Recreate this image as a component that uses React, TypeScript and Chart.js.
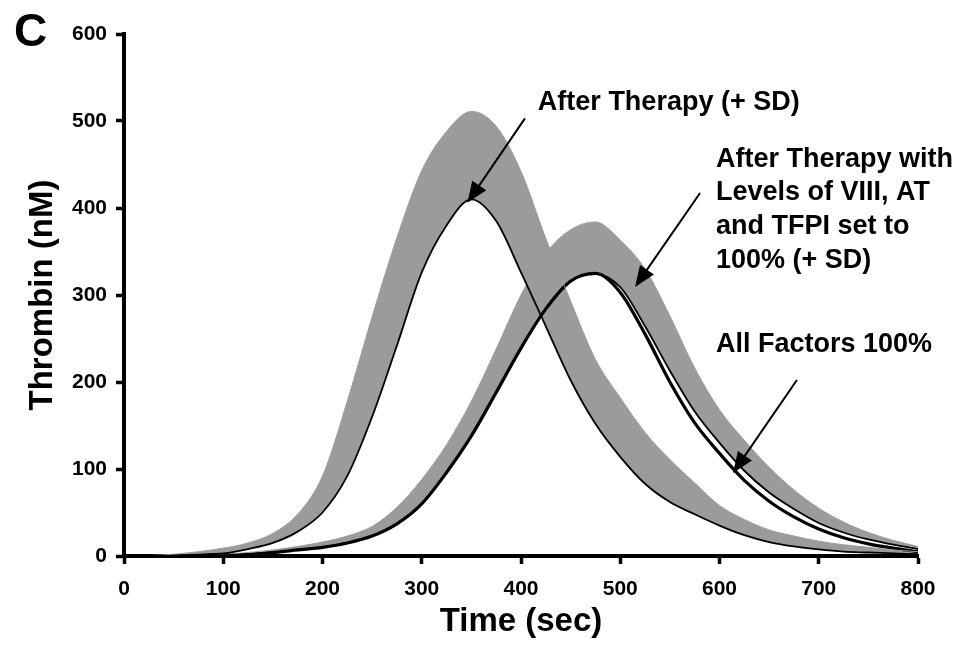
import React, { useEffect, useRef } from 'react';
import { Chart, registerables } from 'chart.js';

Chart.register(...registerables);

// ---- Data ----
const TIME = [0, 25, 50, 75, 100, 125, 150, 175, 200, 225, 250, 275, 300, 325, 350, 375, 400, 425, 450, 475, 500, 525, 550, 575, 600, 625, 650, 675, 700, 725, 750, 775, 800];

// "After Therapy" mean and mean + SD
const AFTER_THERAPY_MEAN = [0, 0, 0.5, 1.5, 3, 8, 15, 28, 50, 92, 160, 242, 326, 380, 410, 385, 326, 264, 202, 152, 114, 83, 62, 48, 35, 24, 16, 11, 7.5, 5, 4, 3, 2];
const AFTER_THERAPY_UPPER = [0, 0.5, 2, 5, 9, 15, 26, 48, 92, 178, 275, 366, 443, 488, 511, 494, 442, 365, 293, 226, 182, 142, 111, 84, 58, 42, 30, 23, 17, 13, 10, 7, 5];

// "After Therapy with Levels of VIII, AT and TFPI set to 100%" mean and mean + SD
const SET100_MEAN = [0, 0, 0, 0.5, 1, 2, 4, 7, 10, 15, 23, 37, 60, 96, 138, 188, 239, 284, 316, 324, 309, 264, 213, 166, 130, 98, 73, 54, 38, 27, 19, 13, 8];
const SET100_UPPER = [0, 0, 0.5, 1, 2, 4, 7, 11, 16, 23, 34, 56, 88, 128, 178, 238, 300, 348, 375, 384, 363, 330, 276, 216, 168, 133, 102, 76, 55, 39, 27, 18, 11];

// "All Factors 100%"
const ALL_FACTORS = [0, 0, 0, 0.5, 1, 2, 4, 7, 10, 15, 23, 37, 60, 96, 138, 188, 239, 284, 316, 325, 303, 255, 200, 153, 118, 87, 63, 45, 31, 21, 14, 9, 5];

const X_MIN = 0;
const X_MAX = 800;
const X_STEP = 100;
const Y_MIN = 0;
const Y_MAX = 600;
const Y_STEP = 100;

const PANEL_LABEL = 'C';
const X_TITLE = 'Time (sec)';
const Y_TITLE = 'Thrombin (nM)';
const LABEL_AFTER = ['After Therapy (+ SD)'];
const LABEL_SET100 = ['After Therapy with', 'Levels of VIII, AT', 'and TFPI set to', '100% (+ SD)'];
const LABEL_ALL = ['All Factors 100%'];

const FONT = '"Liberation Sans", Arial, Helvetica, sans-serif';
const GRAY = '#9b9b9b';

const toPts = (ys: number[]) => TIME.map((t, i) => ({ x: t, y: ys[i] }));

// annotation placements in data units (text left/first-line centre, arrow start/tip)
const ANNOTATIONS = [
  { lines: LABEL_AFTER, tx: 417, ty: 524, from: [404, 503], to: [346, 406] },
  { lines: LABEL_SET100, tx: 596.5, ty: 458.6, from: [580.4, 417.2], to: [514.9, 309.2] },
  { lines: LABEL_ALL, tx: 596.5, ty: 245.4, from: [678, 202.3], to: [613.6, 95.4] },
];

const annotationPlugin = {
  id: 'figureAnnotations',
  afterDraw(chart: any) {
    const { ctx, scales } = chart;
    const xs = scales.x;
    const ys = scales.y;
    ctx.save();
    ctx.fillStyle = '#000';
    ctx.strokeStyle = '#000';
    // panel letter
    ctx.font = `bold 46px ${FONT}`;
    ctx.textAlign = 'left';
    ctx.textBaseline = 'alphabetic';
    ctx.fillText(PANEL_LABEL, 14, 46);

    const size = 27;
    ctx.font = `bold ${size}px ${FONT}`;
    ANNOTATIONS.forEach((a) => {
      const lx = xs.getPixelForValue(a.tx);
      const ly = ys.getPixelForValue(a.ty);
      a.lines.forEach((line, i) => {
        ctx.fillText(line, lx, ly + i * 33.7 + size * 0.358);
      });
      const x1 = xs.getPixelForValue(a.from[0]);
      const y1 = ys.getPixelForValue(a.from[1]);
      const x2 = xs.getPixelForValue(a.to[0]);
      const y2 = ys.getPixelForValue(a.to[1]);
      const dx = x2 - x1;
      const dy = y2 - y1;
      const len = Math.hypot(dx, dy);
      const ux = dx / len;
      const uy = dy / len;
      const headLen = 21;
      const headW = 17;
      ctx.lineWidth = 2;
      ctx.beginPath();
      ctx.moveTo(x1, y1);
      ctx.lineTo(x2 - ux * headLen * 0.7, y2 - uy * headLen * 0.7);
      ctx.stroke();
      const bx = x2 - ux * headLen;
      const by = y2 - uy * headLen;
      ctx.beginPath();
      ctx.moveTo(x2, y2);
      ctx.lineTo(bx - uy * headW / 2, by + ux * headW / 2);
      ctx.lineTo(bx + uy * headW / 2, by - ux * headW / 2);
      ctx.closePath();
      ctx.fill();
    });
    ctx.restore();
  },
};

export default function App() {
  const canvasRef = useRef<HTMLCanvasElement | null>(null);

  useEffect(() => {
    const canvas = canvasRef.current;
    if (!canvas) return;
    const tickFont = { family: FONT, size: 21, weight: 'bold' as const };
    const titleFont = { family: FONT, size: 33, weight: 'bold' as const };
    const lineCommon = { pointRadius: 0, cubicInterpolationMode: 'monotone' as const };

    const chart = new Chart(canvas, {
      type: 'line',
      data: {
        datasets: [
          {
            label: 'After Therapy',
            data: toPts(AFTER_THERAPY_MEAN),
            borderColor: '#000',
            borderWidth: 1.8,
            fill: false,
            ...lineCommon,
          },
          {
            label: 'After Therapy + SD',
            data: toPts(AFTER_THERAPY_UPPER),
            borderColor: GRAY,
            borderWidth: 1,
            backgroundColor: GRAY,
            fill: '-1',
            ...lineCommon,
          },
          {
            label: 'Set to 100%',
            data: toPts(SET100_MEAN),
            borderColor: '#000',
            borderWidth: 1.8,
            fill: false,
            ...lineCommon,
          },
          {
            label: 'Set to 100% + SD',
            data: toPts(SET100_UPPER),
            borderColor: GRAY,
            borderWidth: 1,
            backgroundColor: GRAY,
            fill: '-1',
            ...lineCommon,
          },
          {
            label: 'All Factors 100%',
            data: toPts(ALL_FACTORS),
            borderColor: '#000',
            borderWidth: 3.2,
            fill: false,
            ...lineCommon,
          },
        ],
      },
      options: {
        animation: false,
        responsive: false,
        maintainAspectRatio: false,
        layout: { padding: { top: 34, right: 46, left: 0, bottom: 0 } },
        plugins: {
          legend: { display: false },
          tooltip: { enabled: false },
          filler: { drawTime: 'beforeDatasetsDraw' },
        },
        scales: {
          x: {
            type: 'linear',
            min: X_MIN,
            max: X_MAX,
            ticks: { stepSize: X_STEP, font: tickFont, color: '#000', padding: 13, maxRotation: 0 },
            grid: { drawOnChartArea: false, drawTicks: true, tickLength: 8, tickWidth: 3.5, tickColor: '#000' },
            border: { display: true, color: '#000', width: 4 },
            title: { display: true, text: X_TITLE, font: titleFont, color: '#000', padding: { top: 0, bottom: 12 } },
            afterFit: (scale: any) => { scale.height = 98; },
          },
          y: {
            type: 'linear',
            min: Y_MIN,
            max: Y_MAX,
            ticks: { stepSize: Y_STEP, font: tickFont, color: '#000', padding: 9 },
            grid: { drawOnChartArea: false, drawTicks: true, tickLength: 8, tickWidth: 3.5, tickColor: '#000' },
            border: { display: true, color: '#000', width: 4 },
            title: { display: true, text: Y_TITLE, font: titleFont, color: '#000', padding: { top: 23, bottom: 0 } },
            afterFit: (scale: any) => { scale.width = 124; },
          },
        },
      },
      plugins: [annotationPlugin],
    });
    return () => chart.destroy();
  }, []);

  return (
    <div style={{ position: 'absolute', left: 0, top: 0, width: 964, height: 654, background: '#fff' }}>
      <canvas ref={canvasRef} width={964} height={654} style={{ display: 'block' }} />
    </div>
  );
}
